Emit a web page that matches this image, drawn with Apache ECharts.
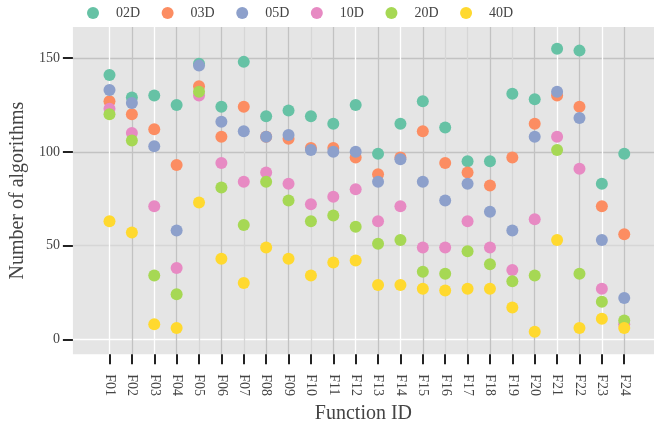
<!DOCTYPE html>
<html>
<head>
<meta charset="utf-8">
<script src="https://cdn.jsdelivr.net/npm/echarts@6/dist/echarts.min.js"></script>
<style>html,body{margin:0;padding:0;background:#fff}#c{width:654px;height:429px}</style>
</head>
<body>
<div id="c"></div>
<script>
var categories = ['F01','F02','F03','F04','F05','F06','F07','F08','F09','F10','F11','F12','F13','F14','F15','F16','F17','F18','F19','F20','F21','F22','F23','F24'];
var seriesNames = ['02D','03D','05D','10D','20D','40D'];
var d02 = [141,129,130,125,147,124,148,119,122,119,115,125,99,115,127,113,95,95,131,128,155,154,83,99];
var d03 = [127,120,112,93,135,108,124,108,107,102,102,97,88,97,111,94,89,82,97,115,130,124,71,56];
var d05 = [133,126,103,58,146,116,111,108,109,101,100,100,84,96,84,74,83,68,58,108,132,118,53,22];
var d10 = [123,110,71,38,130,94,84,89,83,72,76,80,63,71,49,49,63,49,37,64,108,91,27,8];
var d20 = [120,106,34,24,132,81,61,84,74,63,66,60,51,53,36,35,47,40,31,34,101,35,20,10];
var d40 = [63,57,8,6,73,43,30,49,43,34,41,42,29,29,27,26,27,27,17,4,53,6,11,6];
var yTicks = [0,50,100,150];
var colors = ['#66c2a5','#fc8d62','#8da0cb','#e78ac3','#a6d854','#ffd92f'];

var allData = [d02,d03,d05,d10,d20,d40];
var xIdx = categories.map(function(c,i){return i;});
var W='#ffffff', G='#c2c2c2', L='#d6d6d6';
var xLineColors = [W,G,W,G,L,G,L,G,G,L,G,W,G,W,G,L,L,G,L,G,W,G,W,G];
var font = "'Liberation Serif','Times New Roman',serif";

var chart = echarts.init(document.getElementById('c'));
chart.setOption({
  animation: false,
  color: colors,
  textStyle: {fontFamily: font},
  legend: {
    top: 1, left: 82,
    itemWidth: 36, itemHeight: 12, itemGap: 21.5,
    icon: 'circle',
    textStyle: {fontFamily: font, fontSize: 14, color: '#444'},
    data: seriesNames
  },
  grid: {left: 71, right: 0, top: 27, bottom: 74.5, show: true, backgroundColor: '#e5e5e5', borderWidth: 0, containLabel: false},
  xAxis: {
    type: 'value', min: -1.635, max: 24.33,
    name: 'Function ID', nameLocation: 'middle', nameGap: 47,
    nameTextStyle: {fontFamily: font, fontSize: 20, color: '#444'},
    axisLine: {show: false, onZero: false},
    axisTick: {show: true, length: 10, customValues: xIdx, lineStyle: {color: '#222', width: 2}},
    axisLabel: {customValues: xIdx, rotate: -90, margin: 20, fontFamily: font, fontSize: 14, color: '#444',
      formatter: function(v){ return categories[Math.round(v)] || ''; }},
    splitLine: {show: true, lineStyle: {color: xLineColors, width: 1.3}}
  },
  yAxis: {
    type: 'value', min: -8, max: 166.6,
    name: 'Number of algorithms', nameLocation: 'middle', nameGap: 43,
    nameTextStyle: {fontFamily: font, fontSize: 20, color: '#444'},
    axisLine: {show: false, onZero: false},
    axisTick: {show: true, length: 10, customValues: yTicks, lineStyle: {color: '#222', width: 2}},
    axisLabel: {customValues: yTicks, margin: 13, fontFamily: font, fontSize: 14, color: '#444'},
    splitLine: {show: true, lineStyle: {color: [W, L, G, G], width: 1.3}}
  },
  series: seriesNames.map(function(n, k){
    return {
      name: n, type: 'scatter', symbol: 'circle', symbolSize: 12,
      itemStyle: {opacity: 1},
      data: allData[k].map(function(v,i){ return [xIdx[i], v]; })
    };
  })
});
</script>
</body>
</html>
